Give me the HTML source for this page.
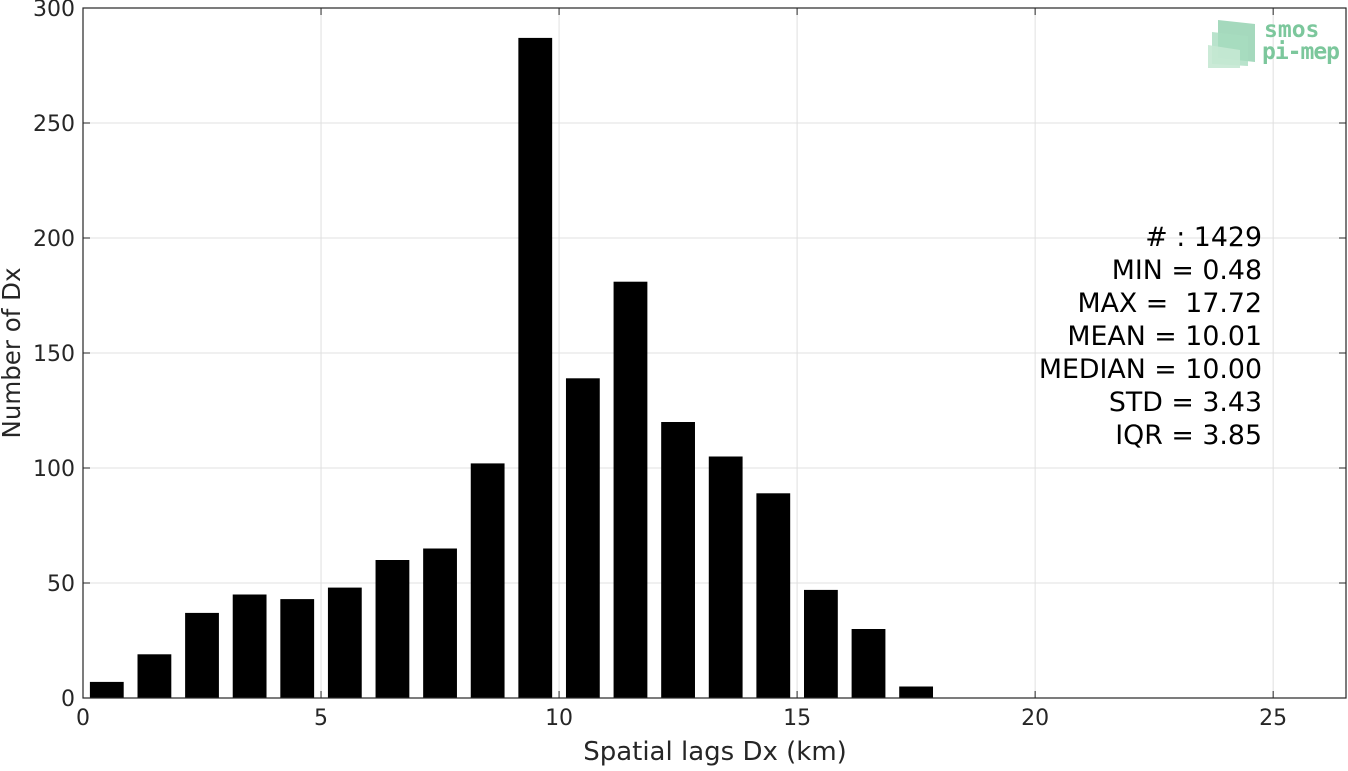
<!DOCTYPE html>
<html><head><meta charset="utf-8"><style>
body{margin:0;background:#fff;width:1348px;height:767px;overflow:hidden;font-family:"DejaVu Sans","Liberation Sans",sans-serif}
</style></head><body>
<svg id="chart" width="1348" height="767" xmlns="http://www.w3.org/2000/svg" font-family="DejaVu Sans, Liberation Sans, sans-serif">
<g id="grid"></g>
<g id="bars"></g>
<g id="axes"></g>
<g>
  <polygon points="1218,20 1255,24 1255,62 1218,58" fill="#8fd0ac" opacity="0.8"/>
  <polygon points="1212,32 1248,36 1248,66 1212,64" fill="#a8dcbf" opacity="0.8"/>
  <polygon points="1208,45 1240,50 1240,68 1208,68" fill="#c5e8d3" opacity="0.9"/>
  <text x="1264" y="37" font-size="23" font-weight="bold" fill="#7cc79c" font-family="DejaVu Sans Mono, Liberation Mono, monospace">smos</text>
  <text x="1262" y="59" font-size="23" font-weight="bold" fill="#7cc79c" font-family="DejaVu Sans Mono, Liberation Mono, monospace" textLength="78">pi-mep</text>
</g>
<g font-size="26.8" fill="#000" text-anchor="end">
  <text x="1262" y="246">#&#160;: 1429</text>
  <text x="1262" y="279">MIN = 0.48</text>
  <text x="1262" y="312">MAX = &#160;17.72</text>
  <text x="1262" y="345">MEAN = 10.01</text>
  <text x="1262" y="378">MEDIAN = 10.00</text>
  <text x="1262" y="411">STD = 3.43</text>
  <text x="1262" y="444">IQR = 3.85</text>
</g>
<text x="715" y="760" font-size="26" fill="#262626" text-anchor="middle">Spatial lags Dx (km)</text>
<text transform="translate(20,353) rotate(-90)" font-size="24.5" fill="#262626" text-anchor="middle">Number of Dx</text>
</svg>
<script>
const binCenters=[0.5,1.5,2.5,3.5,4.5,5.5,6.5,7.5,8.5,9.5,10.5,11.5,12.5,13.5,14.5,15.5,16.5,17.5];
const counts=[7,19,37,45,43,48,60,65,102,287,139,181,120,105,89,47,30,5];
const xTicks=[0,5,10,15,20,25];
const yTicks=[0,50,100,150,200,250,300];
const L=83,R=1346,T=8,B=698,XMAX=26.53,YMAX=300,BW=0.71;
const sx=v=>L+v/XMAX*(R-L), sy=v=>B-v/YMAX*(B-T);
const NS='http://www.w3.org/2000/svg';
function mk(tag,attrs,parent){const e=document.createElementNS(NS,tag);for(const k in attrs)e.setAttribute(k,attrs[k]);parent.appendChild(e);return e;}
const grid=document.getElementById('grid'),bars=document.getElementById('bars'),axes=document.getElementById('axes');
xTicks.forEach(t=>{
  const g=mk('line',{x1:sx(t),x2:sx(t),y1:T,y2:B,stroke:'#e0e0e0','stroke-width':1},grid);
  
  
  const tk=mk('line',{x1:sx(t),x2:sx(t),y1:B,y2:B-7,stroke:'#262626','stroke-width':1},axes);
  
  
  const tk2=mk('line',{x1:sx(t),x2:sx(t),y1:T,y2:T+7,stroke:'#262626','stroke-width':1},axes);
  
  
  const lb=mk('text',{x:sx(t),y:B+27,'font-size':22,fill:'#262626','text-anchor':'middle'},axes);
  lb.textContent=t;
  
  
});
yTicks.forEach(t=>{
  const g=mk('line',{x1:L,x2:R,y1:sy(t),y2:sy(t),stroke:'#e0e0e0','stroke-width':1},grid);
  
  
  const tk=mk('line',{x1:L,x2:L+7,y1:sy(t),y2:sy(t),stroke:'#262626','stroke-width':1},axes);
  
  
  const tk2=mk('line',{x1:R,x2:R-7,y1:sy(t),y2:sy(t),stroke:'#262626','stroke-width':1},axes);
  
  
  const lb=mk('text',{x:L-8,y:sy(t)+8,'font-size':22,fill:'#262626','text-anchor':'end'},axes);
  lb.textContent=t;
  
  
});
const box=mk('rect',{x:L,y:T,width:R-L,height:B-T,fill:'none',stroke:'#262626','stroke-width':1.2},axes);


binCenters.forEach((c,i)=>{
  const x0=sx(c-BW/2),x1=sx(c+BW/2);
  const r=mk('rect',{x:x0,y:sy(counts[i]),width:x1-x0,height:B-sy(counts[i]),fill:'#000'},bars);
  
  
});
</script>
</body></html>
